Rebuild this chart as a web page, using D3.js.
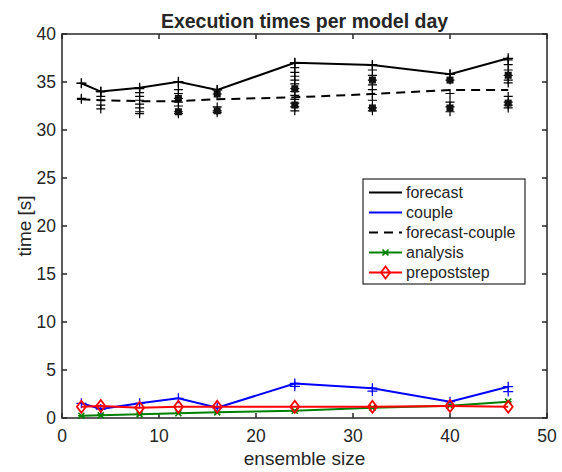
<!DOCTYPE html>
<html>
<head>
<meta charset="utf-8">
<script src="https://cdn.jsdelivr.net/npm/d3@7"></script>
<style>
  body { margin: 0; background: #fff; }
  text { font-family: "Liberation Sans", Arial, sans-serif; fill: #262626; }
</style>
</head>
<body>
<div id="vis"></div>
<script>
// ensemble sizes on the x axis
const ensembleSize = [2, 4, 8, 12, 16, 24, 32, 40, 46];

// mean times per model day [s]
const forecast       = [34.87, 34.0, 34.4, 35.03, 34.17, 37.0, 36.77, 35.8, 37.47];
const couple         = [1.53, 0.94, 1.53, 2.05, 1.07, 3.6, 3.1, 1.7, 3.26];
const forecastCouple = [33.2, 33.1, 33.0, 33.0, 33.2, 33.4, 33.75, 34.17, 34.17];
const analysis       = [0.24, 0.28, 0.38, 0.49, 0.59, 0.76, 1.07, 1.28, 1.7];
const prepoststep    = [1.18, 1.25, 1.07, 1.18, 1.18, 1.18, 1.18, 1.25, 1.18];

// individual runs, one list per ensemble size
const forecastRuns = [
  [34.87, 33.2, 33.3],
  [34.0, 33.5, 32.6, 32.2],
  [34.3, 33.9, 33.5, 33.1, 32.7, 32.3, 31.9, 31.7],
  [35.0, 34.2, 33.8, 33.3, 32.9, 32.5, 31.9, 31.7],
  [34.2, 33.75, 32.4, 32.0, 31.8],
  [37.0, 36.5, 36.0, 35.6, 35.2, 34.8, 34.3, 34.0, 33.6, 33.2, 32.8, 32.4, 32.0],
  [36.8, 36.25, 35.7, 35.2, 34.7, 34.2, 33.7, 33.1, 32.3, 32.0],
  [35.8, 35.2, 33.8, 32.9, 32.4, 31.9],
  [37.3, 36.8, 36.25, 35.7, 35.2, 34.9, 33.5, 32.9, 32.6, 32.3]
];
// places where many runs pile up into a solid blob
const blobSize = [12, 12, 16, 16, 24, 24, 32, 32, 40, 40, 46, 46];
const blobTime = [33.3, 31.9, 33.75, 32.0, 34.3, 32.6, 35.2, 32.3, 35.2, 32.3, 35.7, 32.8];

const coupleRunSize = [24, 32, 46];
const coupleRunTime = [3.3, 2.8, 2.75];

const xTicks = [0, 10, 20, 30, 40, 50];
const yTicks = [0, 5, 10, 15, 20, 25, 30, 35, 40];

var width = 562;
var height = 472;
var margin = { top: 34, left: 62, bottom: 54, right: 15 };
var axisColor = '#262626';

var svg = d3.select('#vis').append('svg')
  .attr('width', width)
  .attr('height', height);

var x = d3.scaleLinear().domain([0, 50]).range([margin.left, width - margin.right]);
var y = d3.scaleLinear().domain([0, 40]).range([height - margin.bottom, margin.top]);

var g = svg.append('g');

// plot box
g.append('rect')
  .attr('x', x(0)).attr('y', y(40))
  .attr('width', x(50) - x(0)).attr('height', y(0) - y(40))
  .attr('fill', 'none').attr('stroke', axisColor).attr('stroke-width', 1.5);

// ticks on all four sides, pointing in
var tk = 5;
xTicks.forEach(function (t) {
  g.append('line').attr('x1', x(t)).attr('x2', x(t)).attr('y1', y(0)).attr('y2', y(0) - tk)
    .attr('stroke', axisColor).attr('stroke-width', 1.5);
  g.append('line').attr('x1', x(t)).attr('x2', x(t)).attr('y1', y(40)).attr('y2', y(40) + tk)
    .attr('stroke', axisColor).attr('stroke-width', 1.5);
  g.append('text').attr('x', x(t)).attr('y', y(0) + 24)
    .attr('text-anchor', 'middle').attr('font-size', 17.5).text(t);
});
yTicks.forEach(function (t) {
  g.append('line').attr('x1', x(0)).attr('x2', x(0) + tk).attr('y1', y(t)).attr('y2', y(t))
    .attr('stroke', axisColor).attr('stroke-width', 1.5);
  g.append('line').attr('x1', x(50)).attr('x2', x(50) - tk).attr('y1', y(t)).attr('y2', y(t))
    .attr('stroke', axisColor).attr('stroke-width', 1.5);
  g.append('text').attr('x', x(0) - 6).attr('y', y(t) + 6)
    .attr('text-anchor', 'end').attr('font-size', 17.5).text(t);
});

// title and axis labels
g.append('text').attr('x', (x(0) + x(50)) / 2).attr('y', 28)
  .attr('text-anchor', 'middle').attr('font-size', 19.5).attr('font-weight', 'bold')
  .attr('fill', '#000').text('Execution times per model day');
g.append('text').attr('x', (x(0) + x(50)) / 2).attr('y', 465)
  .attr('text-anchor', 'middle').attr('font-size', 19).text('ensemble size');
g.append('text')
  .attr('transform', 'translate(31,' + ((y(0) + y(40)) / 2) + ') rotate(-90)')
  .attr('text-anchor', 'middle').attr('font-size', 19).text('time [s]');

function plusPath(s) {
  return 'M' + (-s) + ',0H' + s + 'M0,' + (-s) + 'V' + s;
}

// scattered individual runs
forecastRuns.forEach(function (runs, i) {
  runs.forEach(function (v) {
    g.append('path')
      .attr('d', plusPath(4.5))
      .attr('transform', 'translate(' + x(ensembleSize[i]) + ',' + y(v) + ')')
      .attr('stroke', '#000').attr('stroke-width', 1.2).attr('fill', 'none');
  });
});
blobSize.forEach(function (s, i) {
  g.append('rect')
    .attr('x', x(s) - 3.5).attr('y', y(blobTime[i]) - 3.5)
    .attr('width', 7).attr('height', 7).attr('fill', '#111');
});
coupleRunSize.forEach(function (s, i) {
  g.append('path')
    .attr('d', plusPath(5))
    .attr('transform', 'translate(' + x(s) + ',' + y(coupleRunTime[i]) + ')')
    .attr('stroke', '#0000ff').attr('stroke-width', 1.2).attr('fill', 'none');
});

var line = d3.line()
  .x(function (d) { return x(d[0]); })
  .y(function (d) { return y(d[1]); });

function series(vals) {
  return ensembleSize.map(function (s, i) { return [s, vals[i]]; });
}

var seriesDefs = [
  { name: 'forecast', vals: forecast, color: '#000', dash: null, marker: 'plus' },
  { name: 'couple', vals: couple, color: '#0000ff', dash: null, marker: 'plus' },
  { name: 'forecast-couple', vals: forecastCouple, color: '#000', dash: '9,6', marker: null },
  { name: 'analysis', vals: analysis, color: '#008000', dash: null, marker: 'x' },
  { name: 'prepoststep', vals: prepoststep, color: '#ff0000', dash: null, marker: 'diamond' }
];

function drawMarker(sel, type, color) {
  if (type === 'plus') {
    sel.append('path').attr('d', plusPath(5))
      .attr('stroke', color).attr('stroke-width', 1.3).attr('fill', 'none');
  } else if (type === 'x') {
    sel.append('path').attr('d', 'M-3,-3L3,3M-3,3L3,-3M-3.5,0H3.5')
      .attr('stroke', color).attr('stroke-width', 1.6).attr('fill', 'none');
  } else if (type === 'diamond') {
    sel.append('path').attr('d', 'M0,-6L4.5,0L0,6L-4.5,0Z')
      .attr('stroke', color).attr('stroke-width', 1.8).attr('fill', 'none');
  }
}

seriesDefs.forEach(function (sd) {
  var pts = series(sd.vals);
  g.append('path')
    .datum(pts)
    .attr('d', line)
    .attr('fill', 'none')
    .attr('stroke', sd.color)
    .attr('stroke-width', 2)
    .attr('stroke-dasharray', sd.dash);
  if (sd.marker) {
    pts.forEach(function (p) {
      var m = g.append('g').attr('transform', 'translate(' + x(p[0]) + ',' + y(p[1]) + ')');
      drawMarker(m, sd.marker, sd.color);
    });
  }
});

// legend
var lg = g.append('g').attr('transform', 'translate(363,179)');
lg.append('rect').attr('width', 162).attr('height', 105)
  .attr('fill', '#fff').attr('stroke', axisColor).attr('stroke-width', 1.2);
seriesDefs.forEach(function (sd, i) {
  var ly = 13.5 + i * 20;
  lg.append('line').attr('x1', 6).attr('x2', 39).attr('y1', ly).attr('y2', ly)
    .attr('stroke', sd.color).attr('stroke-width', 2)
    .attr('stroke-dasharray', sd.dash);
  if (sd.marker === 'x' || sd.marker === 'diamond') {
    var m = lg.append('g').attr('transform', 'translate(22.5,' + ly + ')');
    drawMarker(m, sd.marker, sd.color);
  }
  lg.append('text').attr('x', 43).attr('y', ly + 5.5)
    .attr('font-size', 16).attr('fill', '#000').text(sd.name);
});
</script>
</body>
</html>
